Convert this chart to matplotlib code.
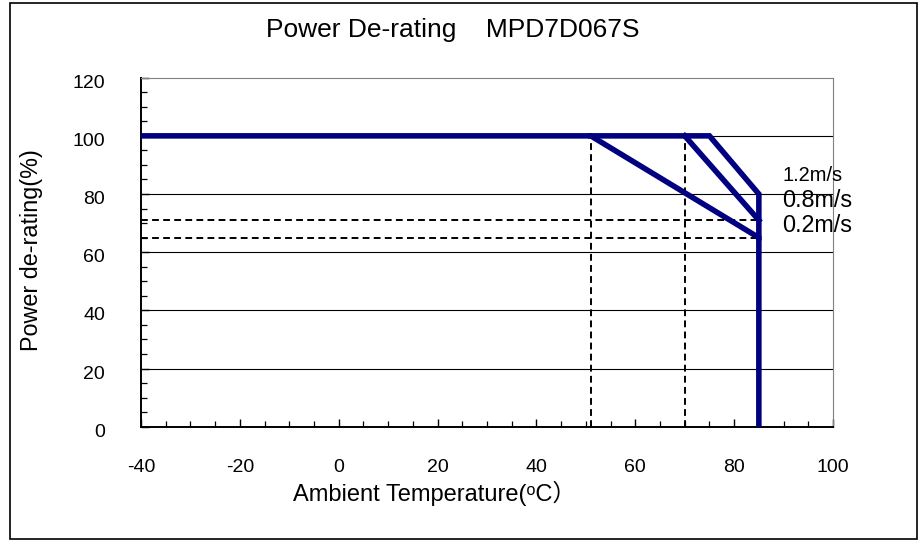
import matplotlib
matplotlib.use("Agg")
import matplotlib.pyplot as plt
from matplotlib.ticker import MultipleLocator
from matplotlib.patches import Rectangle
from matplotlib.transforms import ScaledTranslation

plt.rcParams['font.family'] = ['Liberation Sans', 'DejaVu Sans', 'Noto Sans CJK SC']
plt.rcParams['axes.unicode_minus'] = False

# Data
x_02 = [-40, 51, 85, 85]
y_02 = [100, 100, 65, 0]
x_08 = [70, 85]
y_08 = [100, 71]
x_12 = [51, 75, 85, 85]
y_12 = [100, 100, 80, 65]
ref_x = [51, 70]
ref_y = [71, 65]
labels = ["1.2m/s", "0.8m/s", "0.2m/s"]
label_y = [84.6, 75.4, 66.8]
label_sizes = [14.4, 16.8, 16.8]
xticks = [-40, -20, 0, 20, 40, 60, 80, 100]
yticks = [0, 20, 40, 60, 80, 100, 120]

W, H = 920, 542
fig = plt.figure(figsize=(W / 100, H / 100), dpi=100)
ax = fig.add_axes([141 / W, 1 - 426.7 / H, 692 / W, 349 / H])
ax.set_xlim(-40, 100)
ax.set_ylim(0, 120)

for yv in yticks[1:-1]:
    ax.axhline(yv, color='black', lw=0.8, zorder=1)

navy = '#000080'
dash = (0, (3.5, 2.2))
for xv in ref_x:
    ax.plot([xv, xv], [0, 100], color='black', lw=1.4, ls=dash, zorder=2)
for yv in ref_y:
    ax.plot([-40, 85], [yv, yv], color='black', lw=1.4, ls=dash, zorder=2)

ax.plot(x_02, y_02, color=navy, lw=4, solid_joinstyle='miter', zorder=3)
ax.plot(x_08, y_08, color=navy, lw=4, zorder=3)
ax.plot(x_12, y_12, color=navy, lw=4, solid_joinstyle='miter', zorder=3)

for t, yv, s in zip(labels, label_y, label_sizes):
    ax.text(89.7, yv, t, fontsize=s, va='baseline', ha='left', clip_on=False, zorder=4)

ax.set_xticks(xticks)
ax.set_yticks(yticks)
ax.xaxis.set_minor_locator(MultipleLocator(5))
ax.yaxis.set_minor_locator(MultipleLocator(5))
ax.tick_params(which='both', direction='in', top=False, right=False, labelsize=14)
ax.tick_params(axis='x', pad=23.5)
ax.tick_params(axis='y', pad=26)
ax.tick_params(which='major', length=6, width=1)
ax.tick_params(which='minor', length=4.5, width=0.9)

off = ScaledTranslation(0, -3.5 / 100, fig.dpi_scale_trans)
for lab in ax.get_yticklabels():
    lab.set_transform(lab.get_transform() + off)

ax.spines['left'].set_color('black')
ax.spines['bottom'].set_color('black')
ax.spines['left'].set_linewidth(1.4)
ax.spines['bottom'].set_linewidth(1.4)
ax.spines['top'].set_color('#808080')
ax.spines['right'].set_color('#808080')

fig.text(293 / W, 1 - 501 / H, "Ambient Temperature(\u1d52C\uff09", fontsize=17,
         ha='left', va='baseline')
fig.text(32 / W, 1 - 250 / H, "Power de-rating(%)", fontsize=16.8, rotation=90,
         ha='center', va='center')

fig.text(452.5 / W, 1 - 36.7 / H, "Power De-rating    MPD7D067S", fontsize=19,
         ha='center', va='baseline')

fig.patches.append(Rectangle((10 / W, 3 / H), 907 / W, 536 / H, transform=fig.transFigure,
                             fill=False, edgecolor='black', lw=1.2))

fig.savefig("out.png", dpi=100)
